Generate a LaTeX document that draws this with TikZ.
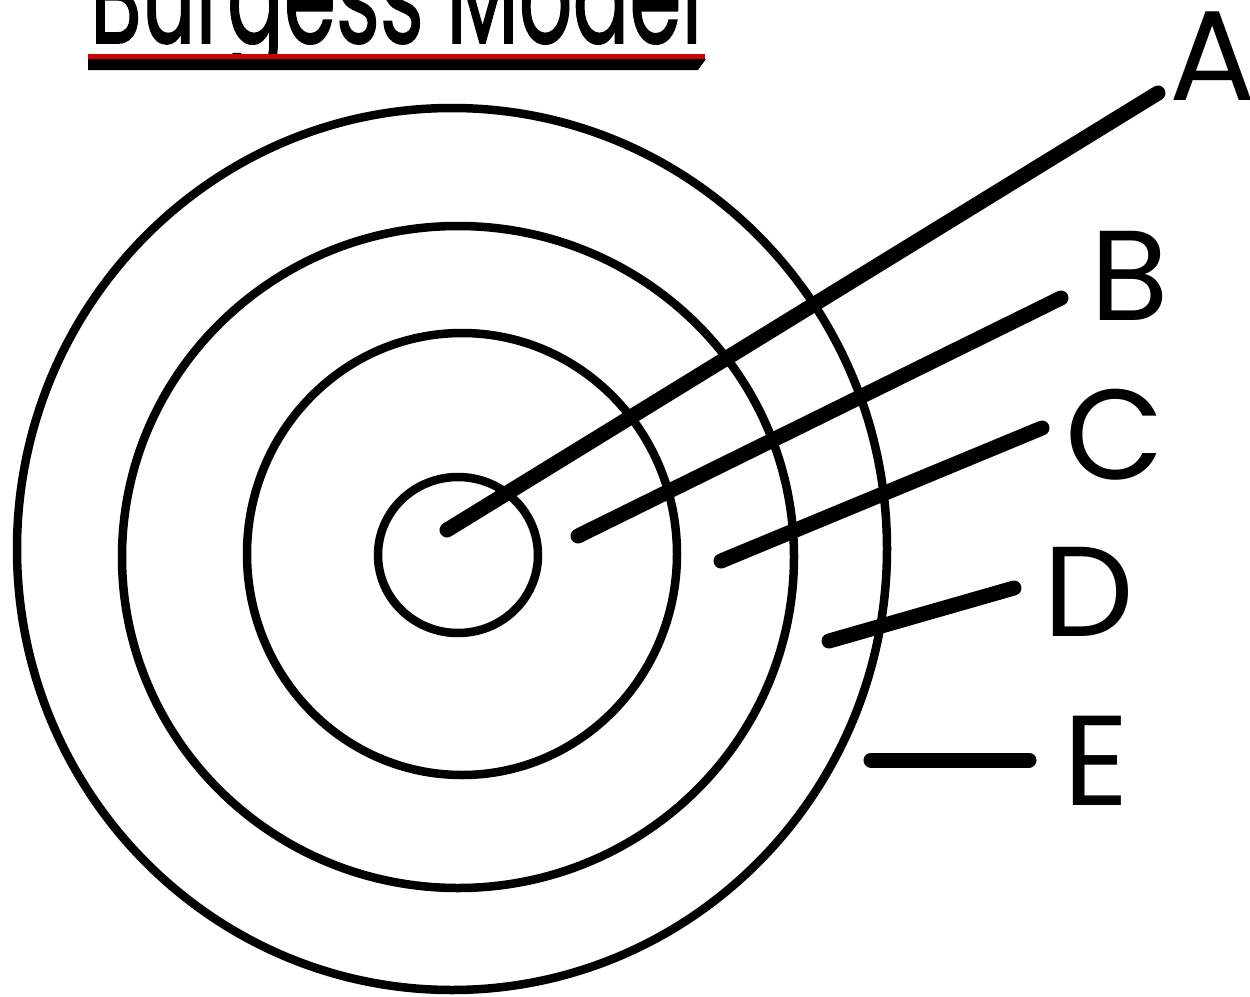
\documentclass[tikz,border=0pt]{standalone}
\usepackage{fontspec}
\usepackage{graphicx}
\setmainfont{Poppins}
\newfontfamily\titlefont{Poppins}[FakeBold=1.2]
\definecolor{ulred}{RGB}{204,0,0}
\begin{document}
\begin{tikzpicture}[x=1pt,y=-1pt,
  ring/.style={draw=black,line width=8.5pt},
  pointer/.style={draw=black,line width=15pt,line cap=round},
  letter/.style={anchor=base,inner sep=0pt,font=\fontsize{128}{128}\selectfont},
]
\useasboundingbox (0,0) rectangle (1250,996);
\clip (0,0) rectangle (1250,996);
\fill[white] (0,0) rectangle (1250,996);
% title
\begin{scope}
\clip (0,0) rectangle (1250,62);
\node[anchor=base west,inner sep=0pt] (title) at (90,43) {\titlefont\scalebox{1}[1.6]{\resizebox{612pt}{!}{Burgess Model}}};
\end{scope}
\fill[ulred] (88,54) rectangle (705,59);
\fill[black] (88,59) -- (706,59) -- (698,70) -- (88,70) -- cycle;
% rings
\draw[ring] (452,549) ellipse [x radius=435, y radius=441];
\draw[ring] (458,557) ellipse [x radius=336, y radius=331];
\draw[ring] (462,554) ellipse [x radius=215, y radius=221];
\draw[ring] (458,555) ellipse [x radius=80, y radius=78];
% pointer ends
\coordinate (a1) at (447,530); \coordinate (a2) at (1158,93);
\coordinate (b1) at (578,536); \coordinate (b2) at (1061,298);
\coordinate (c1) at (721,561); \coordinate (c2) at (1042,428);
\coordinate (d1) at (829,641); \coordinate (d2) at (1014,588);
\coordinate (e1) at (871,760); \coordinate (e2) at (1029,760);
\draw[pointer] (a1) -- (a2);
\draw[pointer] (b1) -- (b2);
\draw[pointer] (c1) -- (c2);
\draw[pointer] (d1) -- (d2);
\draw[pointer] (e1) -- (e2);
% labels
\node[letter] (A) at (1213,100) {A};
\node[letter] (B) at (1130,320) {B};
\node[letter] (C) at (1115,479) {C};
\node[letter] (D) at (1089,636) {D};
\node[letter] (E) at (1096,805) {E};
\end{tikzpicture}
\end{document}
